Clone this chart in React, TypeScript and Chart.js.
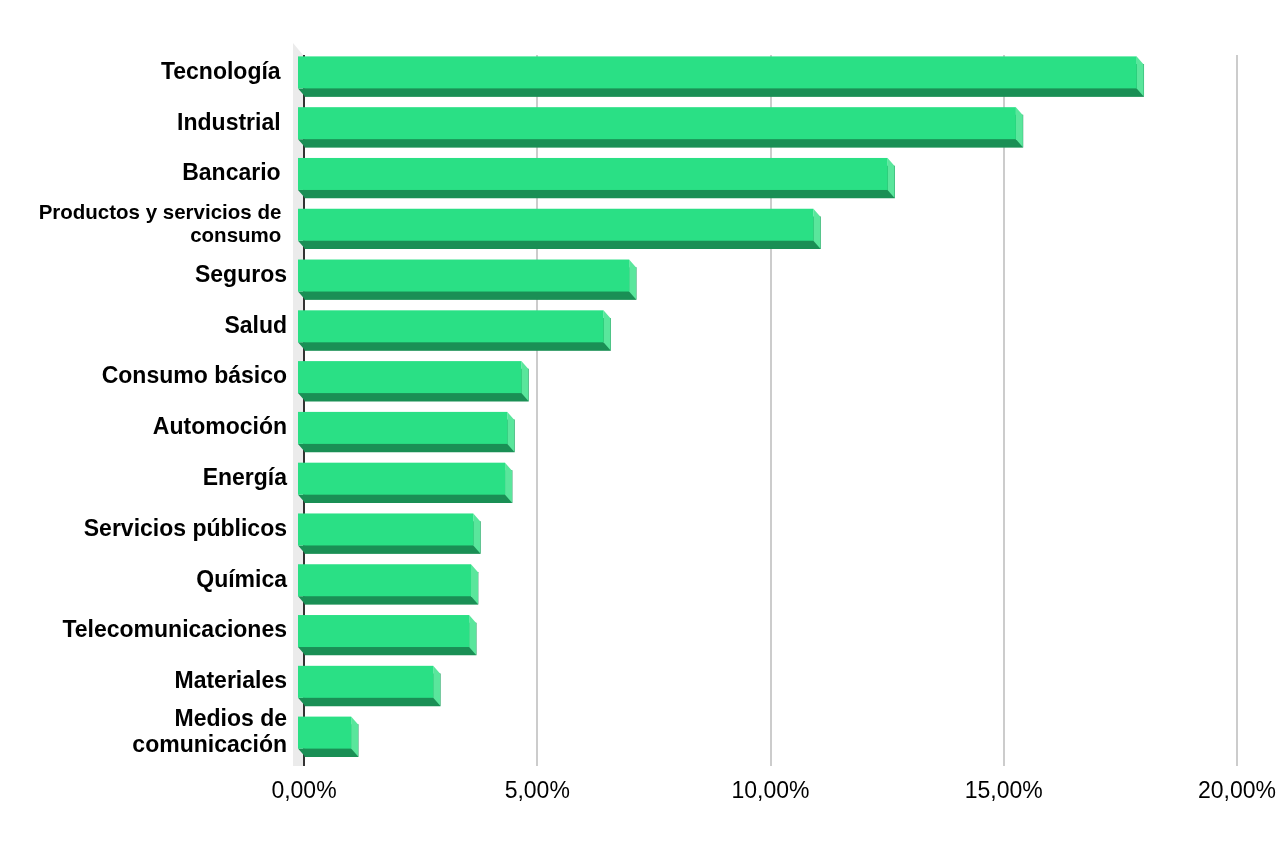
import React, { useEffect, useRef } from 'react';
import Chart from 'chart.js/auto';

const sectors: (string | string[])[] = [
  'Tecnología ',
  'Industrial ',
  'Bancario ',
  ['Productos y servicios de ', 'consumo '],
  'Seguros',
  'Salud',
  'Consumo básico',
  'Automoción',
  'Energía',
  'Servicios públicos',
  'Química',
  'Telecomunicaciones',
  'Materiales',
  ['Medios de', 'comunicación'],
];

const weights = [18.0, 15.41, 12.66, 11.07, 7.12, 6.57, 4.81, 4.51, 4.46, 3.78, 3.73, 3.69, 2.92, 1.16];

const axisMin = 0;
const axisMax = 20;
const axisStep = 5;

const FRONT = '#2ae085';
const BOTTOM = '#1a8f55';
const SIDE = '#5ae69c';
const WALL = '#ebebeb';

// depth of the fake 3d box
const DX = 7;
const DY = 8;

const FONT = '"Liberation Sans", Arial, sans-serif';

const depthPlugin = {
  id: 'depth3d',
  beforeDatasetsDraw(chart: any) {
    const { ctx, chartArea } = chart;
    const zero = chart.scales.x.getPixelForValue(0);
    ctx.save();
    ctx.fillStyle = WALL;
    ctx.beginPath();
    ctx.moveTo(zero - 11, chartArea.top - 12);
    ctx.lineTo(zero - 1, chartArea.top);
    ctx.lineTo(zero - 1, chartArea.bottom);
    ctx.lineTo(zero - 11, chartArea.bottom);
    ctx.closePath();
    ctx.fill();
    ctx.restore();
  },
  afterDatasetsDraw(chart: any) {
    const { ctx } = chart;
    const meta = chart.getDatasetMeta(0);
    ctx.save();
    meta.data.forEach((bar: any) => {
      const { x, y, base, height } = bar.getProps(['x', 'y', 'base', 'height'], true);
      const top = y - height / 2;
      const bottom = y + height / 2;
      // bottom face
      ctx.fillStyle = BOTTOM;
      ctx.beginPath();
      ctx.moveTo(base - DX, bottom - DY);
      ctx.lineTo(x - DX, bottom - DY);
      ctx.lineTo(x, bottom);
      ctx.lineTo(base, bottom);
      ctx.closePath();
      ctx.fill();
      // right face
      ctx.fillStyle = SIDE;
      ctx.beginPath();
      ctx.moveTo(x - DX, top - DY);
      ctx.lineTo(x, top);
      ctx.lineTo(x, bottom);
      ctx.lineTo(x - DX, bottom - DY);
      ctx.closePath();
      ctx.fill();
      // front face
      ctx.fillStyle = FRONT;
      ctx.fillRect(base - DX, top - DY, x - base, height);
    });
    ctx.restore();
  },
};

const SectorChart: React.FC = () => {
  const chartRef = useRef<HTMLCanvasElement>(null);

  useEffect(() => {
    if (!chartRef.current) return;
    const myChart = new Chart(chartRef.current, {
      type: 'bar',
      data: {
        labels: sectors,
        datasets: [
          {
            data: weights,
            backgroundColor: BOTTOM,
            borderWidth: 0,
            barThickness: 32,
          },
        ],
      },
      options: {
        indexAxis: 'y',
        animation: false,
        responsive: true,
        maintainAspectRatio: false,
        layout: { padding: { top: 55, right: 43, left: 0, bottom: 0 } },
        scales: {
          x: {
            min: axisMin,
            max: axisMax,
            border: { display: false },
            grid: {
              drawTicks: false,
              lineWidth: 2,
              color: (c: any) => (c.tick && c.tick.value === 0 ? '#333333' : '#cccccc'),
            },
            ticks: {
              stepSize: axisStep,
              padding: 12,
              color: '#000',
              font: { family: FONT, size: 23 },
              callback: (v: any) => Number(v).toFixed(2).replace('.', ',') + '%',
            },
            afterFit: (scale: any) => {
              scale.height = 80;
              scale.paddingLeft = 0;
              scale.paddingRight = 0;
            },
          },
          y: {
            border: { display: false },
            grid: { display: false, drawTicks: false },
            ticks: {
              autoSkip: false,
              padding: 17,
              labelOffset: -8,
              color: '#000',
              // the long wrapped label is set a bit smaller
              font: (c: any) =>
                c.index === 3
                  ? { family: FONT, size: 20.5, weight: 'bold', lineHeight: 1.15 }
                  : { family: FONT, size: 23, weight: 'bold', lineHeight: 1.13 },
            },
            afterFit: (scale: any) => {
              scale.width = 304;
              scale.paddingTop = 0;
              scale.paddingBottom = 0;
            },
          },
        },
        plugins: {
          legend: { display: false },
          tooltip: { enabled: false },
        },
      },
      plugins: [depthPlugin],
    });

    return () => {
      myChart.destroy();
    };
  }, []);

  return (
    <div style={{ position: 'fixed', left: 0, top: 0, width: 1280, height: 846, background: '#fff' }}>
      <canvas ref={chartRef} />
    </div>
  );
};

export default function App() {
  return <SectorChart />;
}
